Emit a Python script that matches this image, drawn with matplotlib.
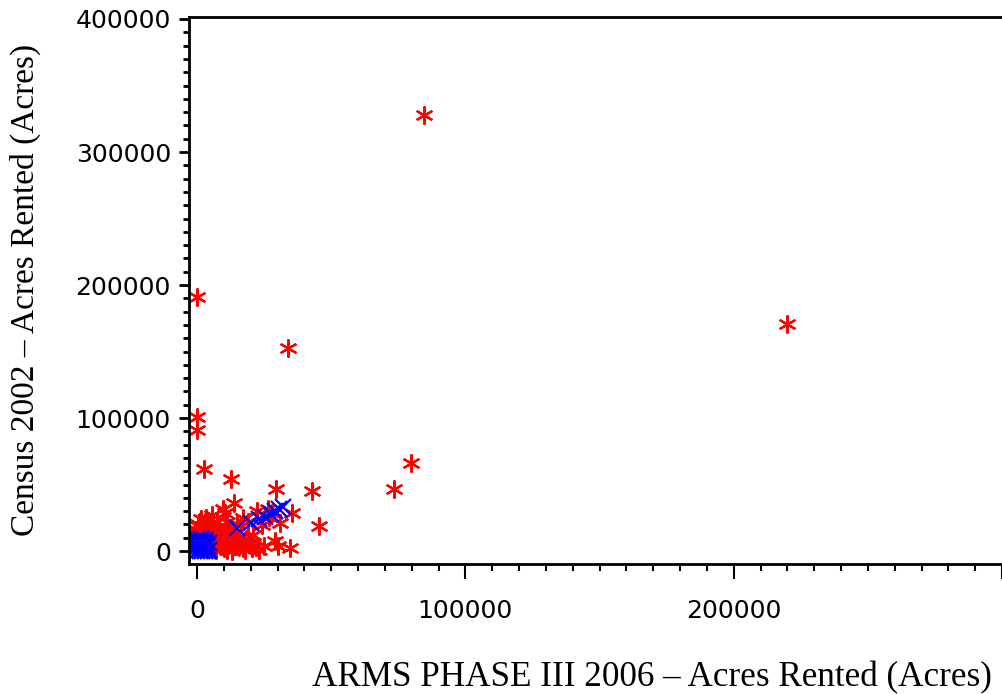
import matplotlib.pyplot as plt
from matplotlib.ticker import MultipleLocator, FixedLocator

# ARMS 2006 (x) vs Census 2002 (y), acres rented
red_x = [84500, 220000, 0, 34000, 0, 0, 2600, 12800, 79700, 73400, 42800, 29500,
         45600, 35500, 22200, 26300, 13800, 9500, 5500, 10400, 24100, 20900,
         29000, 30200, 34600, 20400, 17000, 15000, 27000, 19000, 31000,
         0, 500, 1000, 2000, 3000, 4000, 5000, 6000, 7000, 8000, 9000,
         0, 1000, 2500, 4000, 6000, 8000, 10000, 12000, 1500, 3500, 7500,
         6000, 8000, 10000, 12000, 14000, 16000, 18000, 20000, 22000, 11000,
         7000, 9000, 13000, 15000, 17000, 19000, 21000, 23000, 5500, 16500,
         14000, 12500, 11000, 25000, 28000, 3000, 500, 9000, 11500, 13000]
red_y = [328000, 171000, 191000, 153000, 101000, 91000, 62000, 54500, 66000, 47000, 45500, 46500,
         18800, 28500, 30000, 31500, 36000, 32000, 27500, 28500, 19700, 12000,
         7500, 3700, 2200, 2200, 25000, 20000, 26000, 22000, 21000,
         16000, 20000, 14000, 18000, 22000, 16000, 17000, 20000, 15000, 18000, 13000,
         12000, 13000, 14000, 12000, 11000, 9000, 14000, 17000, 24000, 25000, 22000,
         3000, 6000, 2000, 8000, 4000, 10000, 1000, 6000, 3000, 1000,
         1000, 4000, 0, 6500, 2500, 8000, 4500, 1000, 5500, 12000,
         14000, 11000, 22000, 4000, 29000, 15000, 19000, 10000, 12500, 16000]
blue_x = [0, 1000, 2000, 3000, 4000, 4500, 0, 1000, 2000, 3000, 4000,
          500, 1500, 2500, 3500, 0, 1000, 2000, 3000, 4500, 0, 1500, 3000,
          15000, 20000, 23000, 25500, 27500, 29000, 30500, 32000]
blue_y = [0, 0, 0, 0, 0, 1000, 3000, 3000, 3000, 3000, 3500,
          5000, 5000, 5000, 5000, 7000, 7000, 7000, 7000, 6000, 9000, 9000, 8500,
          17000, 21000, 24000, 26000, 28000, 30000, 31500, 33000]

fig = plt.figure(figsize=(10.03, 6.94), dpi=100)
ax = fig.add_axes([189 / 1003, 1 - 564 / 694, (1002 - 189) / 1003, (564 - 17) / 694])

ax.plot(red_x, red_y, linestyle='none', marker=(6, 2, 0), color='red',
        markersize=13, markeredgewidth=1.6)
ax.plot(blue_x, blue_y, linestyle='none', marker='x', color='blue',
        markersize=12, markeredgewidth=1.6)

ax.set_xlim(-3000, 300000)
ax.set_ylim(-9700, 401500)
ax.spines['right'].set_visible(False)
for s in ['left', 'top', 'bottom']:
    ax.spines[s].set_linewidth(2)

ax.xaxis.set_major_locator(FixedLocator([0, 100000, 200000, 300000]))
ax.xaxis.set_minor_locator(MultipleLocator(10000))
ax.yaxis.set_major_locator(FixedLocator([0, 100000, 200000, 300000, 400000]))
ax.yaxis.set_minor_locator(MultipleLocator(10000))
ax.set_xticklabels(['0', '100000', '200000', ''])
ax.set_yticklabels(['0', '100000', '200000', '300000', '400000'])

ax.tick_params(axis='x', which='major', length=11, width=1.5, pad=14, labelsize=18)
ax.tick_params(axis='x', which='minor', length=5, width=1.5)
ax.tick_params(axis='y', which='major', length=7, width=2, pad=6, labelsize=18)
ax.tick_params(axis='y', which='minor', length=4, width=2)

fig.text(652 / 1003, 1 - 686 / 694, 'ARMS PHASE III 2006 – Acres Rented (Acres)',
         family='Liberation Serif', fontsize=25.3, ha='center', va='baseline')
fig.text(25 / 1003, 1 - 290 / 694, 'Census 2002 – Acres Rented (Acres)',
         family='Liberation Serif', fontsize=24, ha='center', va='center', rotation=90)

fig.savefig('out.png')
